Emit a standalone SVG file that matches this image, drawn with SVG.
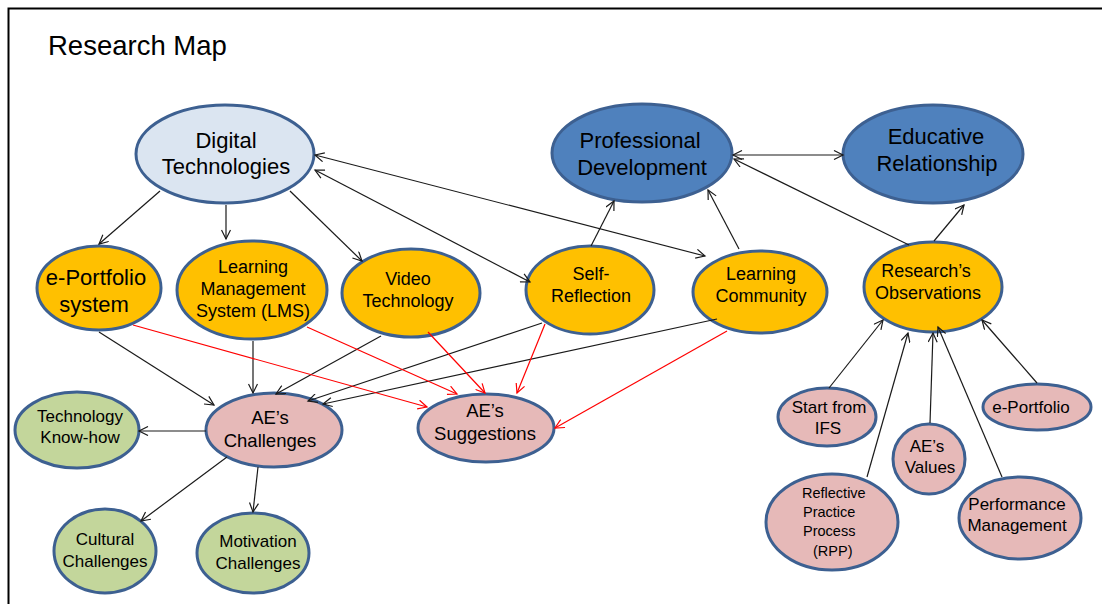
<svg xmlns="http://www.w3.org/2000/svg" width="1102" height="604" viewBox="0 0 1102 604">
<defs>
<style>
text{font-family:"Liberation Sans",Arial,sans-serif;fill:#000;text-anchor:middle}
.n ellipse{stroke:#3d6091;stroke-width:3}
.lb ellipse{fill:#dbe5f1}
.bl ellipse{fill:#4f81bd}
.or ellipse{fill:#ffc000}
.pk ellipse{fill:#e6b9b8}
.gr ellipse{fill:#c3d69b}
.k{stroke:#1a1a1a;stroke-width:1.2;fill:none;marker-end:url(#ak)}
.kb{marker-start:url(#ak)}
.r{stroke:#ff0000;stroke-width:1.2;fill:none;marker-end:url(#ar)}
</style>
<marker id="ak" markerWidth="12" markerHeight="10" refX="10" refY="5" orient="auto-start-reverse" markerUnits="userSpaceOnUse">
<path d="M1,0.5 L10,5 L1,9.5" fill="none" stroke="#1a1a1a" stroke-width="1.2"/>
</marker>
<marker id="ar" markerWidth="12" markerHeight="10" refX="10" refY="5" orient="auto-start-reverse" markerUnits="userSpaceOnUse">
<path d="M1,0.5 L10,5 L1,9.5" fill="none" stroke="#ff0000" stroke-width="1.2"/>
</marker>
</defs>
<rect width="1102" height="604" fill="#fff"/>
<path d="M8.5,604 V8.5 H1102" fill="none" stroke="#000" stroke-width="2"/>
<text x="48" y="55" style="text-anchor:start;font-size:27.5px">Research Map</text>

<g id="nodes">
<g id="digital-technologies" class="n lb"><ellipse cx="225" cy="154" rx="89" ry="49"/><text font-size="22"><tspan x="226" y="148">Digital</tspan><tspan x="226" y="174">Technologies</tspan></text></g>
<g id="professional-development" class="n bl"><ellipse cx="642" cy="153" rx="90" ry="49"/><text font-size="22"><tspan x="640" y="148">Professional</tspan><tspan x="642" y="175">Development</tspan></text></g>
<g id="educative-relationship" class="n bl"><ellipse cx="933" cy="154" rx="90" ry="49"/><text font-size="22"><tspan x="936" y="144">Educative</tspan><tspan x="937" y="171">Relationship</tspan></text></g>
<g id="eportfolio-system" class="n or"><ellipse cx="99" cy="288" rx="62" ry="42"/><text font-size="22"><tspan x="96" y="285">e-Portfolio</tspan><tspan x="94" y="312">system</tspan></text></g>
<g id="lms" class="n or"><ellipse cx="252" cy="290" rx="75" ry="49"/><text font-size="18"><tspan x="253" y="273">Learning</tspan><tspan x="253" y="295">Management</tspan><tspan x="253" y="317">System (LMS)</tspan></text></g>
<g id="video-technology" class="n or"><ellipse cx="411" cy="293" rx="69" ry="44"/><text font-size="18"><tspan x="408" y="285">Video</tspan><tspan x="408" y="307">Technology</tspan></text></g>
<g id="self-reflection" class="n or"><ellipse cx="590" cy="290" rx="64" ry="44"/><text font-size="18"><tspan x="591" y="280">Self-</tspan><tspan x="591" y="302">Reflection</tspan></text></g>
<g id="learning-community" class="n or"><ellipse cx="760" cy="292" rx="67" ry="41"/><text font-size="18"><tspan x="761" y="280">Learning</tspan><tspan x="761" y="302">Community</tspan></text></g>
<g id="researchs-observations" class="n or"><ellipse cx="933" cy="287" rx="69" ry="45"/><text font-size="18"><tspan x="926" y="277">Research’s</tspan><tspan x="928" y="299">Observations</tspan></text></g>
<g id="aes-challenges" class="n pk"><ellipse cx="274" cy="430" rx="68" ry="37"/><text font-size="18.5"><tspan x="270" y="424">AE’s</tspan><tspan x="270" y="447">Challenges</tspan></text></g>
<g id="aes-suggestions" class="n pk"><ellipse cx="486" cy="428" rx="68" ry="34"/><text font-size="18.5"><tspan x="485" y="417">AE’s</tspan><tspan x="485" y="440">Suggestions</tspan></text></g>
<g id="technology-know-how" class="n gr"><ellipse cx="77" cy="430" rx="62" ry="38"/><text font-size="17"><tspan x="80" y="422">Technology</tspan><tspan x="80" y="443">Know-how</tspan></text></g>
<g id="cultural-challenges" class="n gr"><ellipse cx="105" cy="551" rx="51" ry="42"/><text font-size="17"><tspan x="105" y="545">Cultural</tspan><tspan x="105" y="567">Challenges</tspan></text></g>
<g id="motivation-challenges" class="n gr"><ellipse cx="253" cy="553" rx="56" ry="40"/><text font-size="17"><tspan x="258" y="547">Motivation</tspan><tspan x="258" y="569">Challenges</tspan></text></g>
<g id="start-from-ifs" class="n pk"><ellipse cx="827" cy="417" rx="49" ry="29"/><text font-size="17"><tspan x="829" y="413">Start from</tspan><tspan x="828" y="434">IFS</tspan></text></g>
<g id="eportfolio" class="n pk"><ellipse cx="1037" cy="407" rx="54" ry="23"/><text x="1031" y="413" font-size="17">e-Portfolio</text></g>
<g id="aes-values" class="n pk"><ellipse cx="929" cy="459" rx="36" ry="35"/><text font-size="17"><tspan x="927" y="452">AE’s</tspan><tspan x="930" y="473">Values</tspan></text></g>
<g id="rpp" class="n pk"><ellipse cx="832" cy="522" rx="66" ry="48"/><text font-size="14.5" style="text-anchor:start"><tspan x="802" y="498">Reflective</tspan><tspan x="803" y="517">Practice</tspan><tspan x="803" y="536">Process</tspan><tspan x="813" y="556">(RPP)</tspan></text></g>
<g id="performance-management" class="n pk"><ellipse cx="1020" cy="518" rx="61" ry="41"/><text font-size="17"><tspan x="1017" y="510">Performance</tspan><tspan x="1017" y="531">Management</tspan></text></g>
</g>

<g id="connectors">
<path class="k" d="M160,191 L99,244"/>
<path class="k" d="M226,205 L226,239"/>
<path class="k" d="M290,191 L362,261"/>
<path class="k kb" d="M315,155 L705,256"/>
<path class="k kb" d="M315,170 L530,282"/>
<path class="k" d="M591,246 L614,201"/>
<path class="k" d="M739,249 L708,190"/>
<path class="k kb" d="M733,155 L843,155"/>
<path class="k" d="M909,245 L734,159"/>
<path class="k" d="M934,241 L964,205"/>
<path class="k" d="M99,332 L214,405"/>
<path class="k" d="M253,341 L253,393"/>
<path class="k" d="M381,336 L276,394"/>
<path class="k" d="M542,323 L308,401"/>
<path class="k" d="M717,319 L323,404"/>
<path class="k" d="M206,431 L139,431"/>
<path class="k" d="M227,457 L141,521"/>
<path class="k" d="M258,467 L253,512"/>
<path class="k" d="M829,388 L883,320"/>
<path class="k" d="M867,477 L908,333"/>
<path class="k" d="M930,423 L933,333"/>
<path class="k" d="M1002,477 L938,327"/>
<path class="k" d="M1037,383 L982,320"/>
<path class="r" d="M133,325 L427,407"/>
<path class="r" d="M307,327 L457,394"/>
<path class="r" d="M428,332 L485,393"/>
<path class="r" d="M545,324 L517,393"/>
<path class="r" d="M727,331 L555,428"/>
</g>
</svg>
